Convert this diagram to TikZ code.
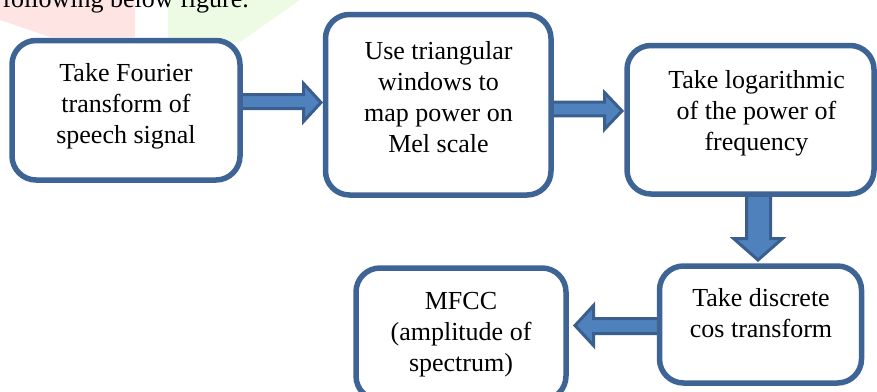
\documentclass[tikz,border=0pt]{standalone}
\usepackage{fontspec}
\setmainfont{Liberation Serif}
\usetikzlibrary{calc,backgrounds}
\definecolor{boxblue}{RGB}{62,100,150}
\definecolor{arrfill}{RGB}{79,129,189}
\definecolor{arrline}{RGB}{58,95,143}
\definecolor{wmpink}{RGB}{255,228,228}
\definecolor{wmgreen}{RGB}{237,250,228}
\begin{document}
\begin{tikzpicture}[x=1pt,y=-1pt,
  stepbox/.style={draw=boxblue,line width=5.5pt,fill=white,rounded corners=24pt,inner sep=0pt,outer sep=0pt},
  lbl/.style={align=center,inner sep=0pt,font=\fontsize{26}{31}\selectfont},
  barrow/.style={fill=arrfill,draw=arrline,line width=3pt,line join=miter}]
\useasboundingbox (0,0) rectangle (877,391);
\clip (0,0) rectangle (877,391);
% boxes
\node[stepbox,minimum width=228pt,minimum height=139.5pt] (b1) at (126,110.25) {};
\node[stepbox,minimum width=225.5pt,minimum height=180.5pt] (b2) at (438.25,104.75) {};
\node[stepbox,minimum width=247pt,minimum height=148.5pt] (b3) at (750.5,119.75) {};
\node[stepbox,minimum width=202pt,minimum height=117pt] (b4) at (760.5,324.5) {};
\node[stepbox,minimum width=210pt,minimum height=132pt] (b5) at (461,334) {};
% texts
\node[lbl] (t1) at (126,106.7) {\strut Take Fourier\\\strut transform of\\\strut speech signal};
\node[lbl] (t2) at (438.5,99.3) {\strut Use triangular\\\strut windows to\\\strut map power on\\\strut Mel scale};
\node[lbl] (t3) at (756.5,113.3) {\strut Take logarithmic\\\strut of the power of\\\strut frequency};
\node[lbl] (t4) at (761,315.8) {\strut Take discrete\\\strut cos transform};
\node[lbl] (t5) at (461,334.6) {\strut MFCC\\\strut (amplitude of\\\strut spectrum)};
\node[lbl,anchor=base east] (cap) at (249,7) {following below figure.};
% background: watermark and block arrows
\begin{scope}[on background layer]
\fill[wmpink] (0,0) -- (135,0) -- (135,37) -- (50,37) -- (0,20) -- cycle;
\fill[wmgreen] (168,0) -- (300,0) -- (240,42) -- (168,42) -- cycle;
\draw[barrow] (b1.east |- 0,94.5) -- (303.5,94.5) -- (303.5,83.5) -- ($(b2.west |- 0,102.5)+(-4.5,0)$)
  -- (303.5,121.5) -- (303.5,108.5) -- (b1.east |- 0,108.5) -- cycle;
\draw[barrow] (b2.east |- 0,102.2) -- (604.5,102.2) -- (604.5,92.5) -- ($(b3.west |- 0,110.9)+(-5,0)$)
  -- (604.5,129.3) -- (604.5,115.8) -- (b2.east |- 0,115.8) -- cycle;
\draw[barrow] (b3.south -| 746.5,0) -- (746.5,238.5) -- (733.5,238.5) -- ($(b4.north -| 758,0)+(0,-6)$)
  -- (782.5,238.5) -- (770.5,238.5) -- (b3.south -| 770.5,0) -- cycle;
\draw[barrow] (b4.west |- 0,318.5) -- (593.5,318.5) -- (593.5,305.5) -- ($(b5.east |- 0,325.5)+(9,0)$)
  -- (593.5,345.5) -- (593.5,333.5) -- (b4.west |- 0,333.5) -- cycle;
\end{scope}
\end{tikzpicture}
\end{document}
